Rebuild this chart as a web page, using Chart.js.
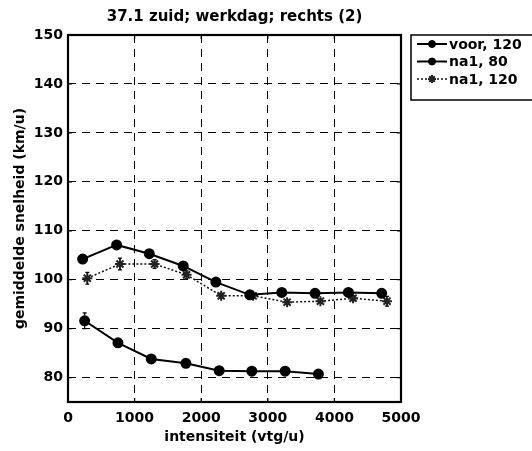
<!DOCTYPE html>
<html>
<head>
<meta charset="utf-8">
<script src="https://cdn.jsdelivr.net/npm/chart.js@4/dist/chart.umd.min.js"></script>
<style>
  html,body{margin:0;padding:0;background:#fff;}
  #wrap{width:532px;height:451px;position:relative;}
</style>
</head>
<body>
<div id="wrap"><canvas id="c" width="532" height="451"></canvas></div>
<script>
// data
const titleText = '37.1 zuid; werkdag; rechts (2)';
const seriesNames = ['voor, 120', 'na1, 80', 'na1, 120'];

const voorX = [220, 730, 1220, 1730, 2220, 2730, 3210, 3710, 4210, 4710];
const voorY = [104.2, 107.1, 105.3, 102.8, 99.5, 96.9, 97.4, 97.2, 97.4, 97.2];
const voorErr = [0.7, 0.4, 0.4, 0.4, 0.4, 0.3, 0.3, 0.3, 0.3, 0.5];

const na80X = [250, 750, 1250, 1770, 2270, 2760, 3260, 3760];
const na80Y = [91.6, 87.1, 83.8, 82.9, 81.4, 81.3, 81.3, 80.7];
const na80Err = [1.6, 0.8, 0.5, 0.4, 0.4, 0.3, 0.3, 0.3];

const na120X = [290, 780, 1300, 1780, 2300, 2780, 3290, 3790, 4280, 4790];
const na120Y = [100.3, 103.2, 103.2, 101.0, 96.7, 96.7, 95.4, 95.6, 96.2, 95.6];
const na120Err = [1.2, 1.2, 0.9, 0.8, 0.5, 0.5, 0.4, 0.4, 0.5, 1.0];

const xTicks = [0, 1000, 2000, 3000, 4000, 5000];
const yTicks = [80, 90, 100, 110, 120, 130, 140, 150];

const FONT = '"DejaVu Sans", sans-serif';
const pts = (xs, ys) => xs.map((x, i) => ({x: x, y: ys[i]}));

const datasets = [
  { label: seriesNames[0], data: pts(voorX, voorY), err: voorErr,
    borderColor: '#000', backgroundColor: '#000', borderWidth: 2,
    pointStyle: 'circle', pointRadius: 4.5, pointBackgroundColor: '#000', pointBorderColor: '#000' },
  { label: seriesNames[1], data: pts(na80X, na80Y), err: na80Err,
    borderColor: '#000', backgroundColor: '#000', borderWidth: 2,
    pointStyle: 'circle', pointRadius: 4.5, pointBackgroundColor: '#000', pointBorderColor: '#000' },
  { label: seriesNames[2], data: pts(na120X, na120Y), err: na120Err,
    borderColor: '#111', backgroundColor: '#777', borderWidth: 1.5, borderDash: [2, 2],
    pointStyle: 'star', pointRadius: 5, pointBorderWidth: 2, pointBackgroundColor: '#777', pointBorderColor: '#222' }
];

// error bars, frame with inner ticks, title and legend
const extras = {
  id: 'extras',
  beforeDatasetsDraw(chart) {
    const ctx = chart.ctx, xs = chart.scales.x, ys = chart.scales.y;
    ctx.save();
    ctx.strokeStyle = '#000';
    ctx.lineWidth = 1.2;
    chart.data.datasets.forEach(ds => {
      ds.data.forEach((p, i) => {
        const e = ds.err[i];
        const px = xs.getPixelForValue(p.x);
        const y1 = ys.getPixelForValue(p.y - e), y2 = ys.getPixelForValue(p.y + e);
        ctx.beginPath();
        ctx.moveTo(px, y1); ctx.lineTo(px, y2);
        ctx.moveTo(px - 2, y1); ctx.lineTo(px + 2, y1);
        ctx.moveTo(px - 2, y2); ctx.lineTo(px + 2, y2);
        ctx.stroke();
      });
    });
    ctx.restore();
  },
  afterDraw(chart) {
    const ctx = chart.ctx, a = chart.chartArea, xs = chart.scales.x, ys = chart.scales.y;
    ctx.save();
    ctx.strokeStyle = '#000';
    ctx.lineWidth = 1.3;
    ctx.beginPath();
    xTicks.forEach(v => {
      const px = xs.getPixelForValue(v);
      ctx.moveTo(px, a.bottom); ctx.lineTo(px, a.bottom - 4);
      ctx.moveTo(px, a.top); ctx.lineTo(px, a.top + 4);
    });
    yTicks.forEach(v => {
      const py = ys.getPixelForValue(v);
      ctx.moveTo(a.left, py); ctx.lineTo(a.left + 4, py);
      ctx.moveTo(a.right, py); ctx.lineTo(a.right - 4, py);
    });
    ctx.stroke();
    ctx.lineWidth = 2.2;
    ctx.strokeRect(a.left, a.top, a.right - a.left, a.bottom - a.top);

    // title
    ctx.fillStyle = '#000';
    ctx.font = 'bold 15px ' + FONT;
    ctx.textAlign = 'center';
    ctx.textBaseline = 'middle';
    ctx.fillText(titleText, (a.left + a.right) / 2, 17);

    // legend
    const bx = 411, by = 35, bw = 130, bh = 65;
    ctx.lineWidth = 1.5;
    ctx.strokeRect(bx, by, bw, bh);
    ctx.font = 'bold 14px ' + FONT;
    ctx.textAlign = 'left';
    chart.data.datasets.forEach((ds, i) => {
      const ly = 44 + i * 17.5;
      ctx.save();
      ctx.strokeStyle = ds.borderColor;
      ctx.lineWidth = ds.borderWidth;
      ctx.setLineDash(ds.borderDash || []);
      ctx.beginPath(); ctx.moveTo(417, ly); ctx.lineTo(447, ly); ctx.stroke();
      ctx.setLineDash([]);
      ctx.fillStyle = ds.pointBackgroundColor;
      ctx.strokeStyle = ds.pointBorderColor;
      ctx.lineWidth = ds.pointBorderWidth || 1;
      Chart.helpers.drawPoint(ctx, {pointStyle: ds.pointStyle, radius: ds.pointStyle === 'star' ? 4 : 3.5, borderWidth: ds.pointBorderWidth || 1}, 432, ly);
      ctx.restore();
      ctx.fillStyle = '#000';
      ctx.fillText(ds.label, 449, ly + 1);
    });
    ctx.restore();
  }
};

new Chart(document.getElementById('c'), {
  type: 'line',
  data: { datasets: datasets },
  plugins: [extras],
  options: {
    responsive: false,
    animation: false,
    layout: { padding: { left: 0, right: 131, top: 35, bottom: 0 } },
    plugins: { legend: { display: false }, tooltip: { enabled: false } },
    elements: { line: { tension: 0 } },
    scales: {
      x: {
        type: 'linear', min: 0, max: 5000,
        afterFit: s => { s.height = 49; },
        afterBuildTicks: s => { s.ticks = xTicks.map(v => ({value: v})); },
        grid: { color: '#000', lineWidth: 1, drawTicks: false },
        border: { display: false, dash: [8, 6] },
        ticks: { color: '#000', padding: 8, maxRotation: 0, callback: v => String(v),
                 font: { family: FONT, size: 14, weight: 'bold' } },
        title: { display: true, text: 'intensiteit (vtg/u)', color: '#000', padding: { top: 0, bottom: 5 },
                 font: { family: FONT, size: 14, weight: 'bold' } }
      },
      y: {
        type: 'linear', min: 75, max: 150,
        afterFit: s => { s.width = 68; },
        afterBuildTicks: s => { s.ticks = yTicks.map(v => ({value: v})); },
        grid: { color: '#000', lineWidth: 1, drawTicks: false },
        border: { display: false, dash: [8, 6] },
        ticks: { color: '#000', padding: 5, callback: v => String(v),
                 font: { family: FONT, size: 14, weight: 'bold' } },
        title: { display: true, text: 'gemiddelde snelheid (km/u)', color: '#000', padding: { top: 12, bottom: 0 },
                 font: { family: FONT, size: 14, weight: 'bold' } }
      }
    }
  }
});
</script>
</body>
</html>
